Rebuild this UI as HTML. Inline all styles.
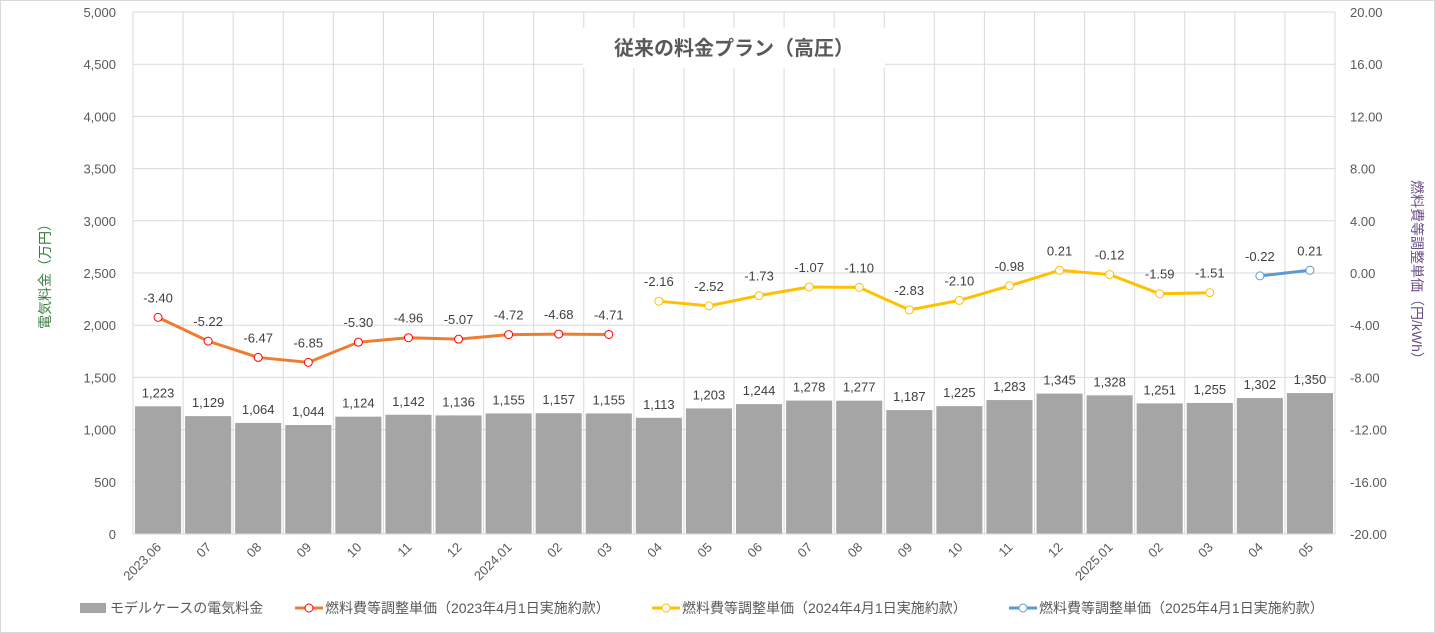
<!DOCTYPE html><html><head><meta charset="utf-8"><style>
body{margin:0;background:#fff}svg{display:block;font-family:"Liberation Sans","Noto Sans CJK JP",sans-serif}
</style></head><body>
<svg id="c" width="1435" height="633"></svg>
<script>
const categories=["2023.06","07","08","09","10","11","12","2024.01","02","03","04","05","06","07","08","09","10","11","12","2025.01","02","03","04","05"];
const bills=[1223,1129,1064,1044,1124,1142,1136,1155,1157,1155,1113,1203,1244,1278,1277,1187,1225,1283,1345,1328,1251,1255,1302,1350];
const fuel2023=[-3.40,-5.22,-6.47,-6.85,-5.30,-4.96,-5.07,-4.72,-4.68,-4.71];
const fuel2024=[-2.16,-2.52,-1.73,-1.07,-1.10,-2.83,-2.10,-0.98,0.21,-0.12,-1.59,-1.51];
const fuel2025=[-0.22,0.21];
const leftTicks=[0,500,1000,1500,2000,2500,3000,3500,4000,4500,5000];
const rightTicks=[-20,-16,-12,-8,-4,0,4,8,12,16,20];
const S="http://www.w3.org/2000/svg",svg=document.getElementById('c');
const X0=133,X1=1335,YT=12,YB=534,cw=(X1-X0)/categories.length;
const xc=i=>X0+cw*(i+0.5);
const yL=v=>YB-(v/5000)*(YB-YT);
const yR=v=>YB-((v+20)/40)*(YB-YT);
function el(t,a,p){const e=document.createElementNS(S,t);for(const k in a)e.setAttribute(k,a[k]);(p||svg).appendChild(e);return e;}
el('rect',{x:0.5,y:0.5,width:1434,height:632,fill:'#fff',stroke:'#d9d9d9'});
leftTicks.forEach((v,i)=>{
 const g=el('line',{x1:X0,x2:X1,y1:yL(v),y2:yL(v),stroke:'#d9d9d9'});
 
 const t=el('text',{x:116,y:yL(v)+5,'text-anchor':'end','font-size':13,fill:'#595959'});t.textContent=v.toLocaleString('en-US');
 
});
rightTicks.forEach(v=>{
 const t=el('text',{x:1350,y:yR(v)+5,'font-size':13,fill:'#595959'});t.textContent=v.toFixed(2);
 
});
for(let i=0;i<=categories.length;i++){const l=el('line',{x1:X0+cw*i,x2:X0+cw*i,y1:YT,y2:YB,stroke:'#d9d9d9'});}
bills.forEach((v,i)=>{
 const r=el('rect',{x:xc(i)-cw/2+2,y:yL(v),width:cw-4,height:YB-yL(v),fill:'#a5a5a5'});
 
 const t=el('text',{x:xc(i),y:yL(v)-9,'text-anchor':'middle','font-size':13,fill:'#404040'});t.textContent=v.toLocaleString('en-US');
 
});
el('line',{x1:X0,x2:X1,y1:YB,y2:YB,stroke:'#d9d9d9'});
categories.forEach((c,i)=>{
 const t=el('text',{x:xc(i)+4,y:548,'text-anchor':'end','font-size':13,fill:'#595959',transform:`rotate(-45 ${xc(i)+4} 548)`});t.textContent=c;
 
});
function series(arr,start,color,name){
 const pts=arr.map((v,k)=>[xc(start+k),yR(v)]);
 const p=el('polyline',{points:pts.map(p=>p.join(',')).join(' '),fill:'none',stroke:color,'stroke-width':3});
 
 arr.forEach((v,k)=>{
  const c=el('circle',{cx:pts[k][0],cy:pts[k][1],r:4,fill:'#fff',stroke:name==='fuel-2023'?'#ff0000':color,'stroke-width':1});
  
  const t=el('text',{x:pts[k][0],y:pts[k][1]-15,'text-anchor':'middle','font-size':13,fill:'#404040'});t.textContent=v.toFixed(2);
  
 });
}
series(fuel2023,0,'#ed7d31','fuel-2023');
series(fuel2024,10,'#ffc000','fuel-2024');
series(fuel2025,22,'#5b9bd5','fuel-2025');
const tb=el('rect',{x:583,y:28,width:302,height:40,fill:'#fff'});
const tt=el('text',{x:734,y:55,'text-anchor':'middle','font-size':20,'font-weight':'bold',fill:'#595959'});tt.textContent='従来の料金プラン（高圧）';

const la=el('text',{x:50,y:273,'text-anchor':'middle','font-size':14,fill:'#3a7d44',transform:'rotate(-90 50 273)'});la.textContent='電気料金（万円）';

const ra=el('text',{x:1412,y:273,'text-anchor':'middle','font-size':14,fill:'#6a4f87',transform:'rotate(90 1412 273)'});ra.textContent='燃料費等調整単価（円/kWh）';

const lg=[[80,'bar','#a5a5a5','モデルケースの電気料金'],[295,'line','#ed7d31','燃料費等調整単価（2023年4月1日実施約款）'],[652,'line','#ffc000','燃料費等調整単価（2024年4月1日実施約款）'],[1009,'line','#5b9bd5','燃料費等調整単価（2025年4月1日実施約款）']];
lg.forEach(([x,k,c,txt])=>{
 const g=el('g',{});
 if(k==='bar')el('rect',{x:x,y:603,width:26,height:10,fill:c},g);
 else{el('line',{x1:x,x2:x+28,y1:608,y2:608,stroke:c,'stroke-width':3},g);el('circle',{cx:x+14,cy:608,r:4,fill:'#fff',stroke:c==='#ed7d31'?'#ff0000':c},g);}
 const t=el('text',{x:x+30,y:613,'font-size':14,fill:'#595959'},g);t.textContent=txt;
});
</script></body></html>
